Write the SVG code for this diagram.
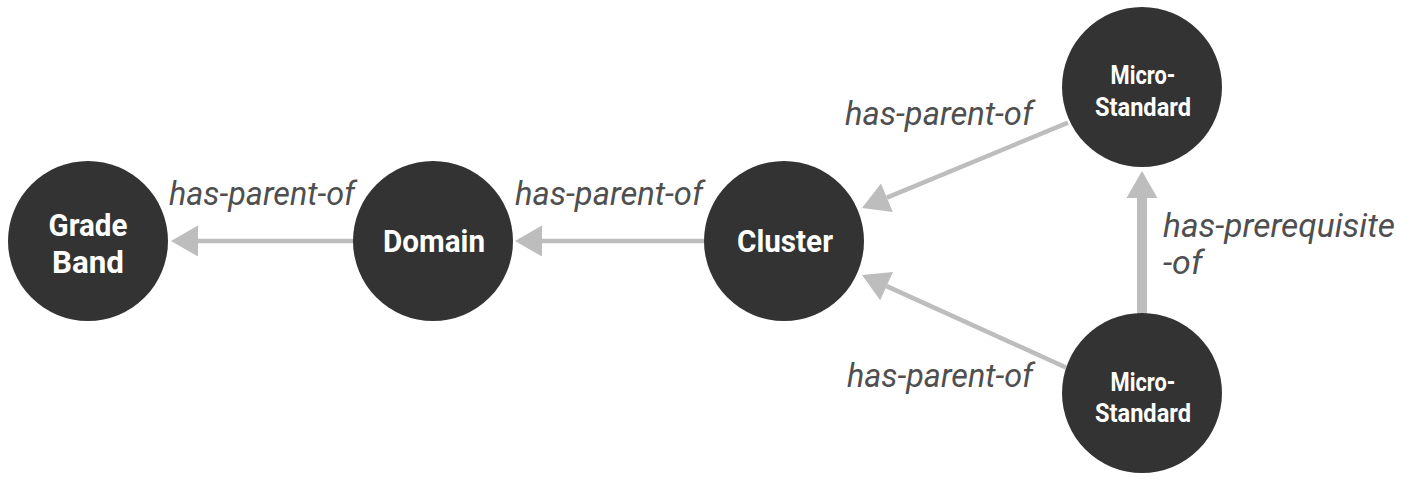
<svg xmlns="http://www.w3.org/2000/svg" width="1416" height="484" viewBox="0 0 1416 484">
  <style>
    .node { fill: #333333; }
    .nlabel { font-family: Roboto, "Liberation Sans", sans-serif; font-weight: bold; fill: #ffffff; text-anchor: middle; }
    .big { font-size: 31px; }
    .small { font-size: 25px; }
    .elabel { font-family: Roboto, "Liberation Sans", sans-serif; font-style: italic; font-size: 34px; fill: #4f4f4f; }
    .edge { stroke: #bdbdbd; stroke-width: 4.5; fill: none; marker-end: url(#arrow); }
    .thick { stroke-width: 10; }
  </style>
  <defs>
    <marker id="arrow" markerUnits="userSpaceOnUse" markerWidth="28" markerHeight="32" viewBox="0 -16 28 32" refX="0" refY="0" orient="auto" overflow="visible">
      <path d="M0,-15.5 L27,0 L0,15.5 Z" fill="#bdbdbd"/>
    </marker>
  </defs>
  <rect width="1416" height="484" fill="#ffffff"/>

  <g id="connectors">
    <line class="edge" x1="354" y1="241" x2="198" y2="241"/>
    <line class="edge" x1="704" y1="241" x2="542" y2="241"/>
    <line class="edge" x1="1068" y1="122.6" x2="886.9" y2="197.7"/>
    <line class="edge" x1="1066" y1="367.5" x2="886.6" y2="286.1"/>
    <line class="edge thick" x1="1142" y1="314" x2="1142" y2="198"/>
    <text class="elabel" x="169" y="205" textLength="186" lengthAdjust="spacingAndGlyphs">has-parent-of</text>
    <text class="elabel" x="515" y="205" textLength="188" lengthAdjust="spacingAndGlyphs">has-parent-of</text>
    <text class="elabel" x="845" y="125" textLength="188" lengthAdjust="spacingAndGlyphs">has-parent-of</text>
    <text class="elabel" x="847" y="387" textLength="186" lengthAdjust="spacingAndGlyphs">has-parent-of</text>
    <text class="elabel" x="1163" y="237" textLength="232" lengthAdjust="spacingAndGlyphs">has-prerequisite</text>
    <text class="elabel" x="1163" y="274">-of</text>
  </g>

  <g id="grade-band">
    <circle class="node" cx="88" cy="241" r="80"/>
    <text class="nlabel big" x="88" y="236" textLength="79" lengthAdjust="spacingAndGlyphs">Grade</text>
    <text class="nlabel big" x="88" y="273" textLength="72" lengthAdjust="spacingAndGlyphs">Band</text>
  </g>
  <g id="domain">
    <circle class="node" cx="433" cy="241" r="80"/>
    <text class="nlabel big" x="434" y="252" textLength="102" lengthAdjust="spacingAndGlyphs">Domain</text>
  </g>
  <g id="cluster">
    <circle class="node" cx="784" cy="241" r="80"/>
    <text class="nlabel big" x="785" y="252" textLength="96" lengthAdjust="spacingAndGlyphs">Cluster</text>
  </g>
  <g id="micro-standard-top">
    <circle class="node" cx="1142" cy="87" r="80"/>
    <text class="nlabel small" x="1143" y="84" textLength="65" lengthAdjust="spacingAndGlyphs">Micro-</text>
    <text class="nlabel small" x="1143" y="116" textLength="96" lengthAdjust="spacingAndGlyphs">Standard</text>
  </g>
  <g id="micro-standard-bottom">
    <circle class="node" cx="1142" cy="393" r="80"/>
    <text class="nlabel small" x="1143" y="391" textLength="65" lengthAdjust="spacingAndGlyphs">Micro-</text>
    <text class="nlabel small" x="1143" y="422" textLength="96" lengthAdjust="spacingAndGlyphs">Standard</text>
  </g>
</svg>
